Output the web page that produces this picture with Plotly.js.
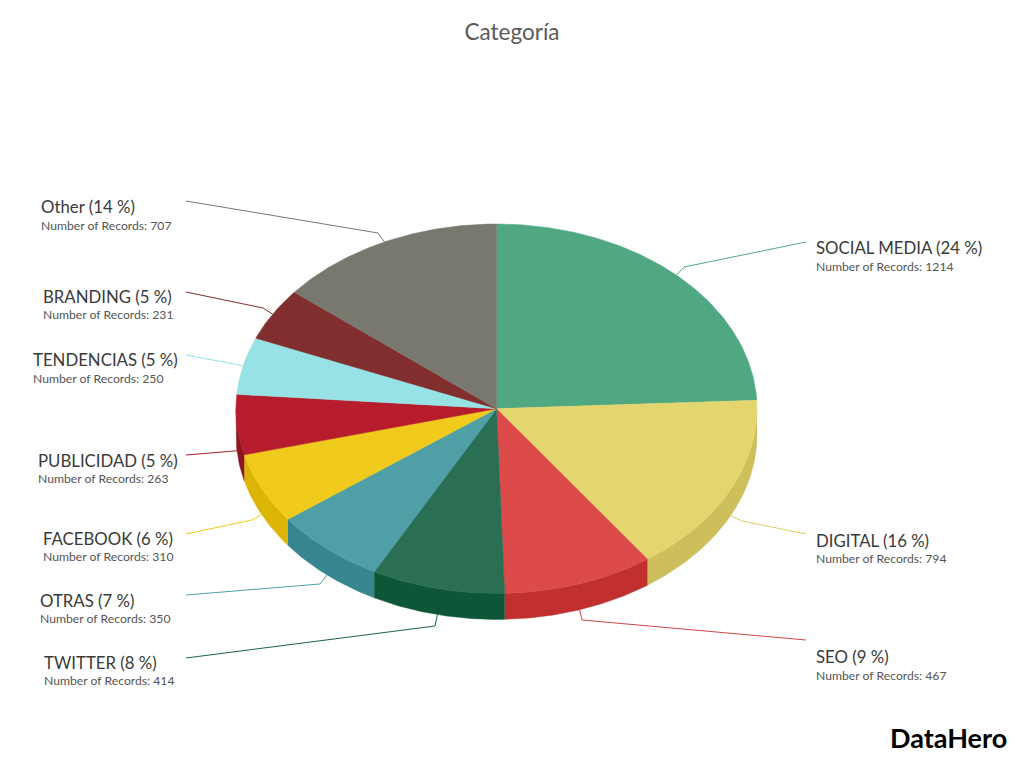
<!DOCTYPE html>
<html><head><meta charset="utf-8">
<script src="https://cdn.plot.ly/plotly-3.0.1.min.js"></script>
<style>html,body{margin:0;padding:0;background:#fff}#c{width:1024px;height:769px}</style>
</head><body><div id="c"></div>
<script>
// Data
const categories = ['SOCIAL MEDIA','DIGITAL','SEO','TWITTER','OTRAS','FACEBOOK','PUBLICIDAD','TENDENCIAS','BRANDING','Other'];
const records = [1214,794,467,414,350,310,263,250,231,707];
const percentLabels = [24,16,9,8,7,6,5,5,5,14];
const chartTitle = 'Categoría';
const recordLabel = 'Number of Records: ';
const brand = 'DataHero';

// Styles
const topColors = ['#50a882','#e4d66f','#dd4a4a','#2a6e53','#4f9fa7','#f0cb1c','#b61c2c','#96e2e5','#812e2e','#78786f'];
const wallColors = ['#50a882','#cdbf5c','#c22f2f','#0e5638','#37858f','#dcb505','#8c1520','#96e2e5','#812e2e','#78786f'];
const lineColors = ['#50a882','#e0cf5e','#d04848','#1f6248','#4f9fa7','#f0cb1c','#a81c2c','#96e2e5','#812e2e','#78786f'];

// Layout (page geometry)
const cx = 496.5, cy = 408.7, rx = 260.5, ry = 184.7, depth = 26;
const labelX   = [816,816,816,44,40,43,38,33,43,41];
const titleY   = [247,540,656,662,600,538,460,359,296,206];
const detailY  = [266,558,675,680,618,556,478,378,314,225];
const lineEndX = [806,806,806,186,186,186,186,186,186,186];
const lineEndY = [242,534,640,658,595,534,455,355,292,201];
const elbowX   = [684,742,582,435,320,252,null,null,263,378];
const elbowY   = [267,521,620,626,584,520,null,null,308,233];

const total = records.reduce((a,b)=>a+b,0);
const px = a => cx + rx*Math.sin(a*Math.PI/180);
const py = a => cy - ry*Math.cos(a*Math.PI/180);
function arc(a0,a1){ const out=[]; const n=Math.max(2,Math.ceil((a1-a0)*2)); for(let i=0;i<=n;i++) out.push(a0+(a1-a0)*i/n); return out; }

const walls=[], tops=[], leaders=[], annotations=[];
let cum=0;
records.forEach((v,i)=>{
  const a0=cum/total*360; cum+=v; const a1=cum/total*360; const mid=(a0+a1)/2;
  const hover = categories[i]+' ('+percentLabels[i]+' %)<br>'+recordLabel+v;
  const w0=Math.max(a0,90), w1=Math.min(a1,270);
  if(w1>w0){
    const as=arc(w0,w1);
    walls.push({type:'scatter',mode:'lines',fill:'toself',fillcolor:wallColors[i],
      line:{color:wallColors[i],width:0.5},hoverinfo:'text',text:hover,showlegend:false,
      x:as.map(px).concat(as.slice().reverse().map(px)),
      y:as.map(py).concat(as.slice().reverse().map(a=>py(a)+depth))});
  }
  const as=arc(a0,a1);
  tops.push({type:'scatter',mode:'lines',fill:'toself',fillcolor:topColors[i],
    line:{color:topColors[i],width:0.5},hoverinfo:'text',text:hover,showlegend:false,
    x:[cx].concat(as.map(px),[cx]), y:[cy].concat(as.map(py),[cy])});
  const lower = mid>90 && mid<270;
  const ax=px(mid), ay=py(mid)+(lower?depth:0);
  const lx=[lineEndX[i]], ly=[lineEndY[i]];
  if(elbowX[i]!==null){lx.push(elbowX[i]);ly.push(elbowY[i]);}
  lx.push(ax);ly.push(ay);
  leaders.push({type:'scatter',mode:'lines',line:{color:lineColors[i],width:1},
    hoverinfo:'skip',showlegend:false,x:lx,y:ly});
  annotations.push({xref:'x',yref:'y',x:labelX[i],y:titleY[i],xanchor:'left',yanchor:'middle',showarrow:false,
    text:categories[i]+' ('+percentLabels[i]+' %)',font:{family:'Lato, sans-serif',size:16.8,color:'#3a3a3a'},borderpad:0,xshift:-1});
  annotations.push({xref:'x',yref:'y',x:labelX[i],y:detailY[i],xanchor:'left',yanchor:'middle',showarrow:false,
    text:recordLabel+v,font:{family:'Lato, sans-serif',size:12.2,color:'#555'},borderpad:0,xshift:-1});
});
annotations.push({xref:'x',yref:'y',x:1008,y:737,xanchor:'right',yanchor:'middle',showarrow:false,
  text:'<b>'+brand+'</b>',font:{family:'Lato, sans-serif',size:27,color:'#000'},borderpad:0});

const axis={visible:false,showgrid:false,zeroline:false,fixedrange:true};
Plotly.newPlot('c',leaders.concat(walls,tops),{
  width:1024,height:769,margin:{l:0,r:0,t:0,b:0},
  paper_bgcolor:'#fff',plot_bgcolor:'#fff',showlegend:false,
  title:{text:chartTitle,x:0.5,xanchor:'center',xref:'paper',y:1-32/769,yref:'paper',yanchor:'middle',
    font:{family:'Lato, sans-serif',size:22.5,color:'#5a5a5a'}},
  xaxis:Object.assign({range:[0,1024]},axis),
  yaxis:Object.assign({range:[769,0]},axis),
  annotations:annotations
},{displayModeBar:false});
</script></body></html>
